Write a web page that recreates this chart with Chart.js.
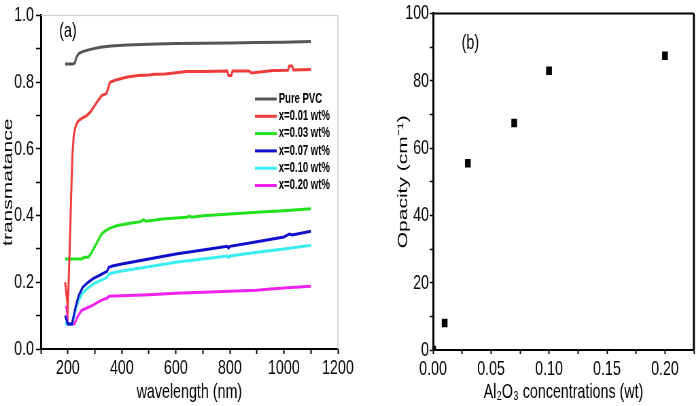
<!DOCTYPE html>
<html>
<head>
<meta charset="utf-8">
<script src="https://cdn.jsdelivr.net/npm/chart.js@4.4.1/dist/chart.umd.min.js"></script>
<style>
body { margin: 0; background: #fff; }
#wrap { position: relative; width: 698px; height: 406px; overflow: hidden; }
canvas { position: absolute; top: 0; }
</style>
</head>
<body>
<div id="wrap">
	<!-- the original figure is squeezed sideways, so the canvases are drawn wider and shown narrower -->
	<canvas id="transChart" width="581" height="406" style="left:0;width:395px;height:406px"></canvas>
	<canvas id="opacityChart" width="446" height="406" style="left:395px;width:303px;height:406px"></canvas>
</div>
<script>
// (a) transmittance spectra
var seriesLabels = ['Pure PVC', 'x=0.01 wt%', 'x=0.03 wt%', 'x=0.07 wt%', 'x=0.10 wt%', 'x=0.20 wt%'];
var seriesColors = ['#555555', '#ef3b3b', '#22e01a', '#1010cc', '#3aeef0', '#ee22ee'];

var pvcWl = [190, 205, 220, 226, 232, 240, 255, 280, 320, 360, 420, 500, 600, 700, 800, 900, 1000, 1100];
var pvcT = [0.855, 0.855, 0.855, 0.858, 0.875, 0.886, 0.892, 0.898, 0.905, 0.909, 0.912, 0.914, 0.916, 0.917, 0.918, 0.919, 0.920, 0.922];

var redWl = [190, 200, 207, 212, 217, 222, 228, 235, 245, 255, 270, 285, 305, 325, 343, 349, 356, 375, 420, 460, 500, 520, 560, 640, 700, 790, 795, 805, 810, 870, 880, 960, 1015, 1020, 1030, 1035, 1100];
var redT = [0.2, 0.125, 0.3, 0.45, 0.58, 0.64, 0.665, 0.68, 0.688, 0.693, 0.70, 0.712, 0.737, 0.760, 0.766, 0.782, 0.800, 0.806, 0.816, 0.82, 0.822, 0.824, 0.825, 0.832, 0.832, 0.834, 0.82, 0.82, 0.834, 0.834, 0.828, 0.835, 0.836, 0.849, 0.849, 0.837, 0.838];

var greenWl = [190, 220, 250, 262, 275, 285, 295, 305, 315, 325, 340, 355, 380, 420, 470, 480, 490, 550, 640, 650, 660, 700, 800, 900, 1000, 1100];
var greenT = [0.27, 0.27, 0.27, 0.275, 0.275, 0.285, 0.30, 0.315, 0.33, 0.345, 0.355, 0.362, 0.37, 0.376, 0.382, 0.388, 0.383, 0.39, 0.395, 0.399, 0.395, 0.40, 0.405, 0.41, 0.415, 0.421];

var blueWl = [190, 200, 215, 222, 230, 240, 255, 275, 295, 320, 345, 352, 365, 400, 500, 600, 700, 790, 795, 800, 900, 1000, 1020, 1030, 1100];
var blueT = [0.10, 0.075, 0.075, 0.10, 0.13, 0.16, 0.185, 0.20, 0.212, 0.222, 0.233, 0.245, 0.249, 0.255, 0.270, 0.285, 0.297, 0.308, 0.303, 0.308, 0.322, 0.336, 0.345, 0.342, 0.353];

var cyanWl = [190, 198, 215, 222, 230, 240, 255, 275, 295, 320, 345, 352, 365, 400, 500, 600, 700, 790, 795, 800, 900, 1000, 1100];
var cyanT = [0.077, 0.075, 0.075, 0.09, 0.12, 0.145, 0.168, 0.183, 0.195, 0.205, 0.215, 0.225, 0.228, 0.234, 0.247, 0.26, 0.270, 0.279, 0.274, 0.279, 0.29, 0.30, 0.311];

var magWl = [190, 196, 200, 215, 225, 235, 250, 270, 290, 310, 330, 345, 352, 400, 500, 600, 700, 800, 900, 950, 1000, 1100];
var magT = [0.125, 0.125, 0.075, 0.074, 0.076, 0.095, 0.115, 0.123, 0.13, 0.14, 0.148, 0.152, 0.158, 0.16, 0.163, 0.167, 0.170, 0.173, 0.176, 0.180, 0.183, 0.188];

// (b) opacity vs Al2O3 content
var concentrations = [0, 0.01, 0.03, 0.07, 0.10, 0.20];
var opacity = [0, 8, 55.5, 67.5, 83, 87.5];

var fontFamily = "'Liberation Sans', Arial, sans-serif";

function isMultiple(v, step) {
	var r = v / step;
	return Math.abs(r - Math.round(r)) < 1e-6;
}

function toPoints(xs, ys) {
	return xs.map(function (x, i) { return { x: x, y: ys[i] }; });
}

// box lines on the sides that have no axis
var framePlugin = {
	id: 'frame',
	afterDraw: function (chart, args, opts) {
		var a = chart.chartArea;
		var ctx = chart.ctx;
		ctx.save();
		ctx.strokeStyle = opts.color;
		ctx.lineWidth = opts.hWidth;
		ctx.beginPath();
		ctx.moveTo(a.left, a.top);
		ctx.lineTo(a.right, a.top);
		ctx.stroke();
		ctx.lineWidth = opts.vWidth;
		ctx.beginPath();
		ctx.moveTo(a.right, a.top);
		ctx.lineTo(a.right, a.bottom);
		ctx.stroke();
		ctx.restore();
	}
};

var panelLabelPlugin = {
	id: 'panelLabel',
	afterDraw: function (chart, args, opts) {
		var ctx = chart.ctx;
		ctx.save();
		ctx.fillStyle = '#000';
		ctx.font = opts.font;
		ctx.textBaseline = 'middle';
		ctx.fillText(opts.text, opts.x, opts.y);
		ctx.restore();
	}
};

// legend sits inside the plot, so draw it by hand from the datasets
var insideLegendPlugin = {
	id: 'insideLegend',
	afterDraw: function (chart, args, opts) {
		var ctx = chart.ctx;
		ctx.save();
		ctx.font = opts.font;
		ctx.textBaseline = 'middle';
		chart.data.datasets.forEach(function (ds, i) {
			var y = opts.y + i * opts.gap;
			ctx.strokeStyle = ds.borderColor;
			ctx.lineWidth = 3;
			ctx.beginPath();
			ctx.moveTo(opts.x, y);
			ctx.lineTo(opts.x + opts.lineLen, y);
			ctx.stroke();
			ctx.fillStyle = '#000';
			ctx.fillText(ds.label, opts.x + opts.lineLen + 3, y);
		});
		ctx.restore();
	}
};

var series = [
	[pvcWl, pvcT], [redWl, redT], [greenWl, greenT],
	[blueWl, blueT], [cyanWl, cyanT], [magWl, magT]
];

var transChart = new Chart(document.getElementById('transChart'), {
	type: 'line',
	data: {
		datasets: series.map(function (s, i) {
			return {
				label: seriesLabels[i],
				data: toPoints(s[0], s[1]),
				borderColor: seriesColors[i],
				backgroundColor: seriesColors[i],
				borderWidth: 3,
				pointRadius: 0,
				tension: 0
			};
		})
	},
	options: {
		responsive: false,
		animation: false,
		layout: { padding: { top: 11, right: 84, left: 0, bottom: 0 } },
		plugins: {
			legend: { display: false },
			tooltip: { enabled: false },
			frame: { color: '#c8c8c8', hWidth: 1, vWidth: 1.5 },
			panelLabel: { text: '(a)', x: 87, y: 31, font: '21px ' + fontFamily },
			insideLegend: { x: 375, y: 99, gap: 17.3, lineLen: 32, font: 'bold 14px ' + fontFamily }
		},
		scales: {
			x: {
				type: 'linear',
				min: 100,
				max: 1200,
				afterFit: function (s) { s.height = 57; },
				border: { display: true, color: '#000', width: 2 },
				grid: { drawOnChartArea: false, drawTicks: true, tickLength: 5, tickColor: '#000', tickWidth: 2 },
				ticks: {
					stepSize: 100,
					autoSkip: false,
					maxRotation: 0,
					padding: 2,
					color: '#000',
					font: { family: fontFamily, size: 21 },
					callback: function (v) { return isMultiple(v, 200) ? String(v) : ''; }
				},
				title: {
					display: true,
					text: 'wavelength (nm)',
					color: '#000',
					font: { family: fontFamily, size: 21 },
					padding: { top: 0, bottom: 1 }
				}
			},
			y: {
				min: 0,
				max: 1,
				afterFit: function (s) { s.width = 60; },
				border: { display: true, color: '#000', width: 3 },
				grid: { drawOnChartArea: false, drawTicks: true, tickLength: 7, tickColor: '#000', tickWidth: 1.5 },
				ticks: {
					stepSize: 0.1,
					autoSkip: false,
					padding: 3,
					color: '#000',
					font: { family: fontFamily, size: 21 },
					callback: function (v) { return isMultiple(v, 0.2) ? v.toFixed(1) : ''; }
				},
				title: {
					display: true,
					text: 'transmatance',
					color: '#000',
					font: { family: fontFamily, size: 21 },
					padding: { top: 0, bottom: 0 }
				}
			}
		}
	},
	plugins: [framePlugin, panelLabelPlugin, insideLegendPlugin]
});

var opacityChart = new Chart(document.getElementById('opacityChart'), {
	type: 'scatter',
	data: {
		datasets: [{
			label: 'Opacity',
			data: toPoints(concentrations, opacity),
			pointStyle: 'rect',
			pointRadius: 6,
			backgroundColor: '#000',
			borderColor: '#000',
			borderWidth: 0,
			clip: 0
		}]
	},
	options: {
		responsive: false,
		animation: false,
		layout: { padding: { top: 9, right: 2, left: 0, bottom: 0 } },
		plugins: {
			legend: { display: false },
			tooltip: { enabled: false },
			frame: { color: '#000', hWidth: 2, vWidth: 3 },
			panelLabel: { text: '(b)', x: 98, y: 43, font: '21px ' + fontFamily }
		},
		scales: {
			x: {
				type: 'linear',
				min: 0,
				max: 0.225,
				afterFit: function (s) { s.height = 56; },
				border: { display: true, color: '#000', width: 2 },
				grid: { drawOnChartArea: false, drawTicks: true, tickLength: 4, tickColor: '#000', tickWidth: 2 },
				ticks: {
					stepSize: 0.025,
					autoSkip: false,
					maxRotation: 0,
					padding: 3,
					color: '#000',
					font: { family: fontFamily, size: 21 },
					callback: function (v) { return isMultiple(v, 0.05) ? v.toFixed(2) : ''; }
				},
				title: {
					display: true,
					text: 'Al₂O₃ concentrations (wt)',
					color: '#000',
					font: { family: fontFamily, size: 21 },
					padding: { top: 0, bottom: 1 }
				}
			},
			y: {
				min: 0,
				max: 100,
				afterFit: function (s) { s.width = 56; },
				border: { display: true, color: '#000', width: 3 },
				grid: { drawOnChartArea: false, drawTicks: true, tickLength: 5, tickColor: '#000', tickWidth: 1.5 },
				ticks: {
					stepSize: 10,
					autoSkip: false,
					padding: 1,
					color: '#000',
					font: { family: fontFamily, size: 21 },
					callback: function (v) { return isMultiple(v, 20) ? String(v) : ''; }
				},
				title: {
					display: true,
					text: 'Opacity (cm⁻¹)',
					color: '#000',
					font: { family: fontFamily, size: 21 },
					padding: { top: 0, bottom: 0 }
				}
			}
		}
	},
	plugins: [framePlugin, panelLabelPlugin]
});
</script>
</body>
</html>
